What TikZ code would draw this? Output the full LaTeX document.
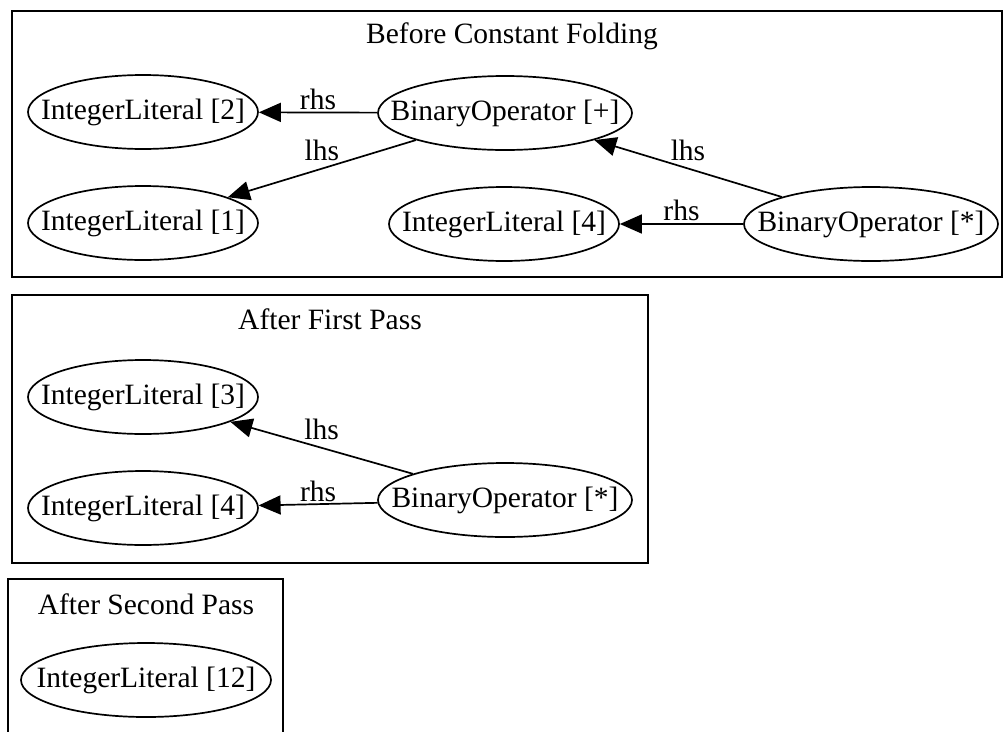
\documentclass[tikz,border=0pt]{standalone}
\usepackage{fontspec}
\setmainfont{Liberation Serif}
\usetikzlibrary{shapes.geometric,arrows.meta}
\newcommand{\nt}[1]{\makebox[0pt]{#1}}
\tikzset{
  gv/.style={line width=1.7pt},
  el/.style={gv, draw, ellipse, inner sep=0pt, minimum height=74pt,
    font=\fontsize{29.5}{34}\selectfont},
  il/.style={el, minimum width=230pt},
  bo/.style={el, minimum width=254pt},
  edge/.style={gv, -{Triangle[length=22pt,width=19pt]}},
  lbl/.style={font=\fontsize{29.5}{34}\selectfont, inner sep=2pt},
  ttl/.style={font=\fontsize{29.5}{34}\selectfont, inner sep=0pt},
  box/.style={gv, draw}
}
\begin{document}
\begin{tikzpicture}[x=1pt, y={(0pt,-1pt)}]
\useasboundingbox (0,0) rectangle (1003,731);
% cluster 1
\draw[box] (12,11) rectangle (1002,277);
\node[ttl] (t1) at (512,36) {Before Constant Folding};
\node[il] (a2) at (143,112) {\nt{IntegerLiteral [2]}};
\node[il] (a1) at (143,223) {\nt{IntegerLiteral [1]}};
\node[bo] (ap) at (505,113) {\nt{BinaryOperator [+]}};
\node[il] (a4) at (504,224) {\nt{IntegerLiteral [4]}};
\node[bo] (am) at (871,224) {\nt{BinaryOperator [*]}};
\draw[edge] (ap) -- node[lbl, above] {rhs} (a2);
\draw[edge] (ap) -- node[lbl, above=5pt] {lhs} (a1);
\draw[edge] (am) -- node[lbl, above=5pt] {lhs} (ap);
\draw[edge] (am) -- node[lbl, above] {rhs} (a4);
% cluster 2
\draw[box] (12,295) rectangle (648,563);
\node[ttl] (t2) at (330,319) {After First Pass};
\node[il] (b3) at (143,397) {\nt{IntegerLiteral [3]}};
\node[il] (b4) at (143,508) {\nt{IntegerLiteral [4]}};
\node[bo] (bm) at (505,500) {\nt{BinaryOperator [*]}};
\draw[edge] (bm) -- node[lbl, above=5pt] {lhs} (b3);
\draw[edge] (bm) -- node[lbl, above] {rhs} (b4);
% cluster 3
\draw[box] (8,740) -- (8,579) -- (283,579) -- (283,740);
\node[ttl] (t3) at (146,604) {After Second Pass};
\node[il, minimum width=250pt] (c12) at (146,680) {\nt{IntegerLiteral [12]}};
\end{tikzpicture}
\end{document}
